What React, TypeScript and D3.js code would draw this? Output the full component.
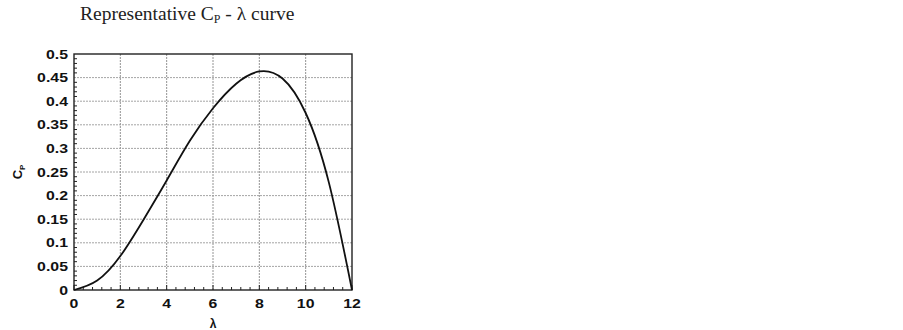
import { useEffect } from "react";
import * as d3 from "d3";

// tip speed ratio vs power coefficient
const lambda = [0, 1, 2, 3, 4, 5, 6, 7, 8, 9, 10, 11, 12];
const cp = [0, 0.02, 0.072, 0.149, 0.232, 0.316, 0.385, 0.437, 0.463, 0.448, 0.375, 0.228, 0];

const xTicks = [0, 2, 4, 6, 8, 10, 12];
const yTicks = [0, 0.05, 0.1, 0.15, 0.2, 0.25, 0.3, 0.35, 0.4, 0.45, 0.5];

const width = 903;
const height = 330;
const margin = { top: 54, left: 74, right: 551, bottom: 40 };

const App = () => {
  useEffect(() => {
    document.body.style.margin = "0";
  }, []);

  const x = d3.scaleLinear().domain([0, 12]).range([margin.left, width - margin.right]);
  const y = d3.scaleLinear().domain([0, 0.5]).range([height - margin.bottom, margin.top]);

  const x0 = x(0), x1 = x(12), y0 = y(0), y1 = y(0.5);

  const minorX = d3.range(0, 12.001, 0.4).filter((v) => Math.abs(v / 2 - Math.round(v / 2)) > 0.01);
  const minorY = d3.range(0, 0.5001, 0.01).filter((v) => Math.abs(v / 0.05 - Math.round(v / 0.05)) > 0.01);

  const line = d3
    .line<number>()
    .x((_, i) => x(lambda[i]))
    .y((d) => y(Math.max(0, d)))
    .curve(d3.curveNatural);

  const tickFont = {
    fontFamily: "'Liberation Sans', Arial, sans-serif",
    fontWeight: 700,
    fontSize: 13,
    fill: "#111",
  };

  return (
    <svg width={width} height={height} style={{ display: "block", background: "#fff" }}>
      {/* title */}
      <text x={80} y={20} fontFamily="'Liberation Serif', 'Times New Roman', serif" fontSize={19.5} fill="#222">
        Representative C
        <tspan fontSize={12} dy={3}>P</tspan>
        <tspan dy={-3}> - λ curve</tspan>
      </text>

      {/* grid */}
      {xTicks.slice(1, -1).map((t) => (
        <line key={"gx" + t} x1={x(t)} x2={x(t)} y1={y1} y2={y0} stroke="#888" strokeWidth={0.9} strokeDasharray="2,1" />
      ))}
      {yTicks.slice(1, -1).map((t) => (
        <line key={"gy" + t} x1={x0} x2={x1} y1={y(t)} y2={y(t)} stroke="#9a9a9a" strokeWidth={0.9} strokeDasharray="2,1" />
      ))}

      {/* minor ticks */}
      {minorX.map((t) => (
        <line key={"mx" + t} x1={x(t)} x2={x(t)} y1={y0} y2={y0 - 3} stroke="#222" strokeWidth={1} />
      ))}
      {minorY.map((t) => (
        <line key={"my" + t} x1={x0} x2={x0 + 3} y1={y(t)} y2={y(t)} stroke="#222" strokeWidth={1} />
      ))}
      {xTicks.map((t) => (
        <line key={"tx" + t} x1={x(t)} x2={x(t)} y1={y0} y2={y0 - 5} stroke="#222" strokeWidth={1} />
      ))}

      {/* frame */}
      <rect x={x0} y={y1} width={x1 - x0} height={y0 - y1} fill="none" stroke="#222" strokeWidth={1.4} />

      {/* curve */}
      <path d={line(cp) ?? ""} fill="none" stroke="#111" strokeWidth={1.8} />

      {/* tick labels */}
      {yTicks.map((t) => (
        <text
          key={"ly" + t}
          transform={`translate(68,${y(t) + 4.5}) scale(1.22,1)`}
          textAnchor="end"
          {...tickFont}
        >
          {t === 0 ? "0" : String(+t.toFixed(2))}
        </text>
      ))}
      {xTicks.map((t) => (
        <text
          key={"lx" + t}
          transform={`translate(${x(t)},308) scale(1.22,1)`}
          textAnchor="middle"
          {...tickFont}
        >
          {t}
        </text>
      ))}

      {/* axis titles */}
      <text x={(x0 + x1) / 2} y={328} textAnchor="middle" {...tickFont} fontSize={12}>
        λ
      </text>
      <text transform={`translate(22,${(y0 + y1) / 2}) rotate(-90)`} textAnchor="middle" {...tickFont} fontSize={13}>
        C<tspan fontSize={8} dy={3}>P</tspan>
      </text>
    </svg>
  );
};

export default App;
